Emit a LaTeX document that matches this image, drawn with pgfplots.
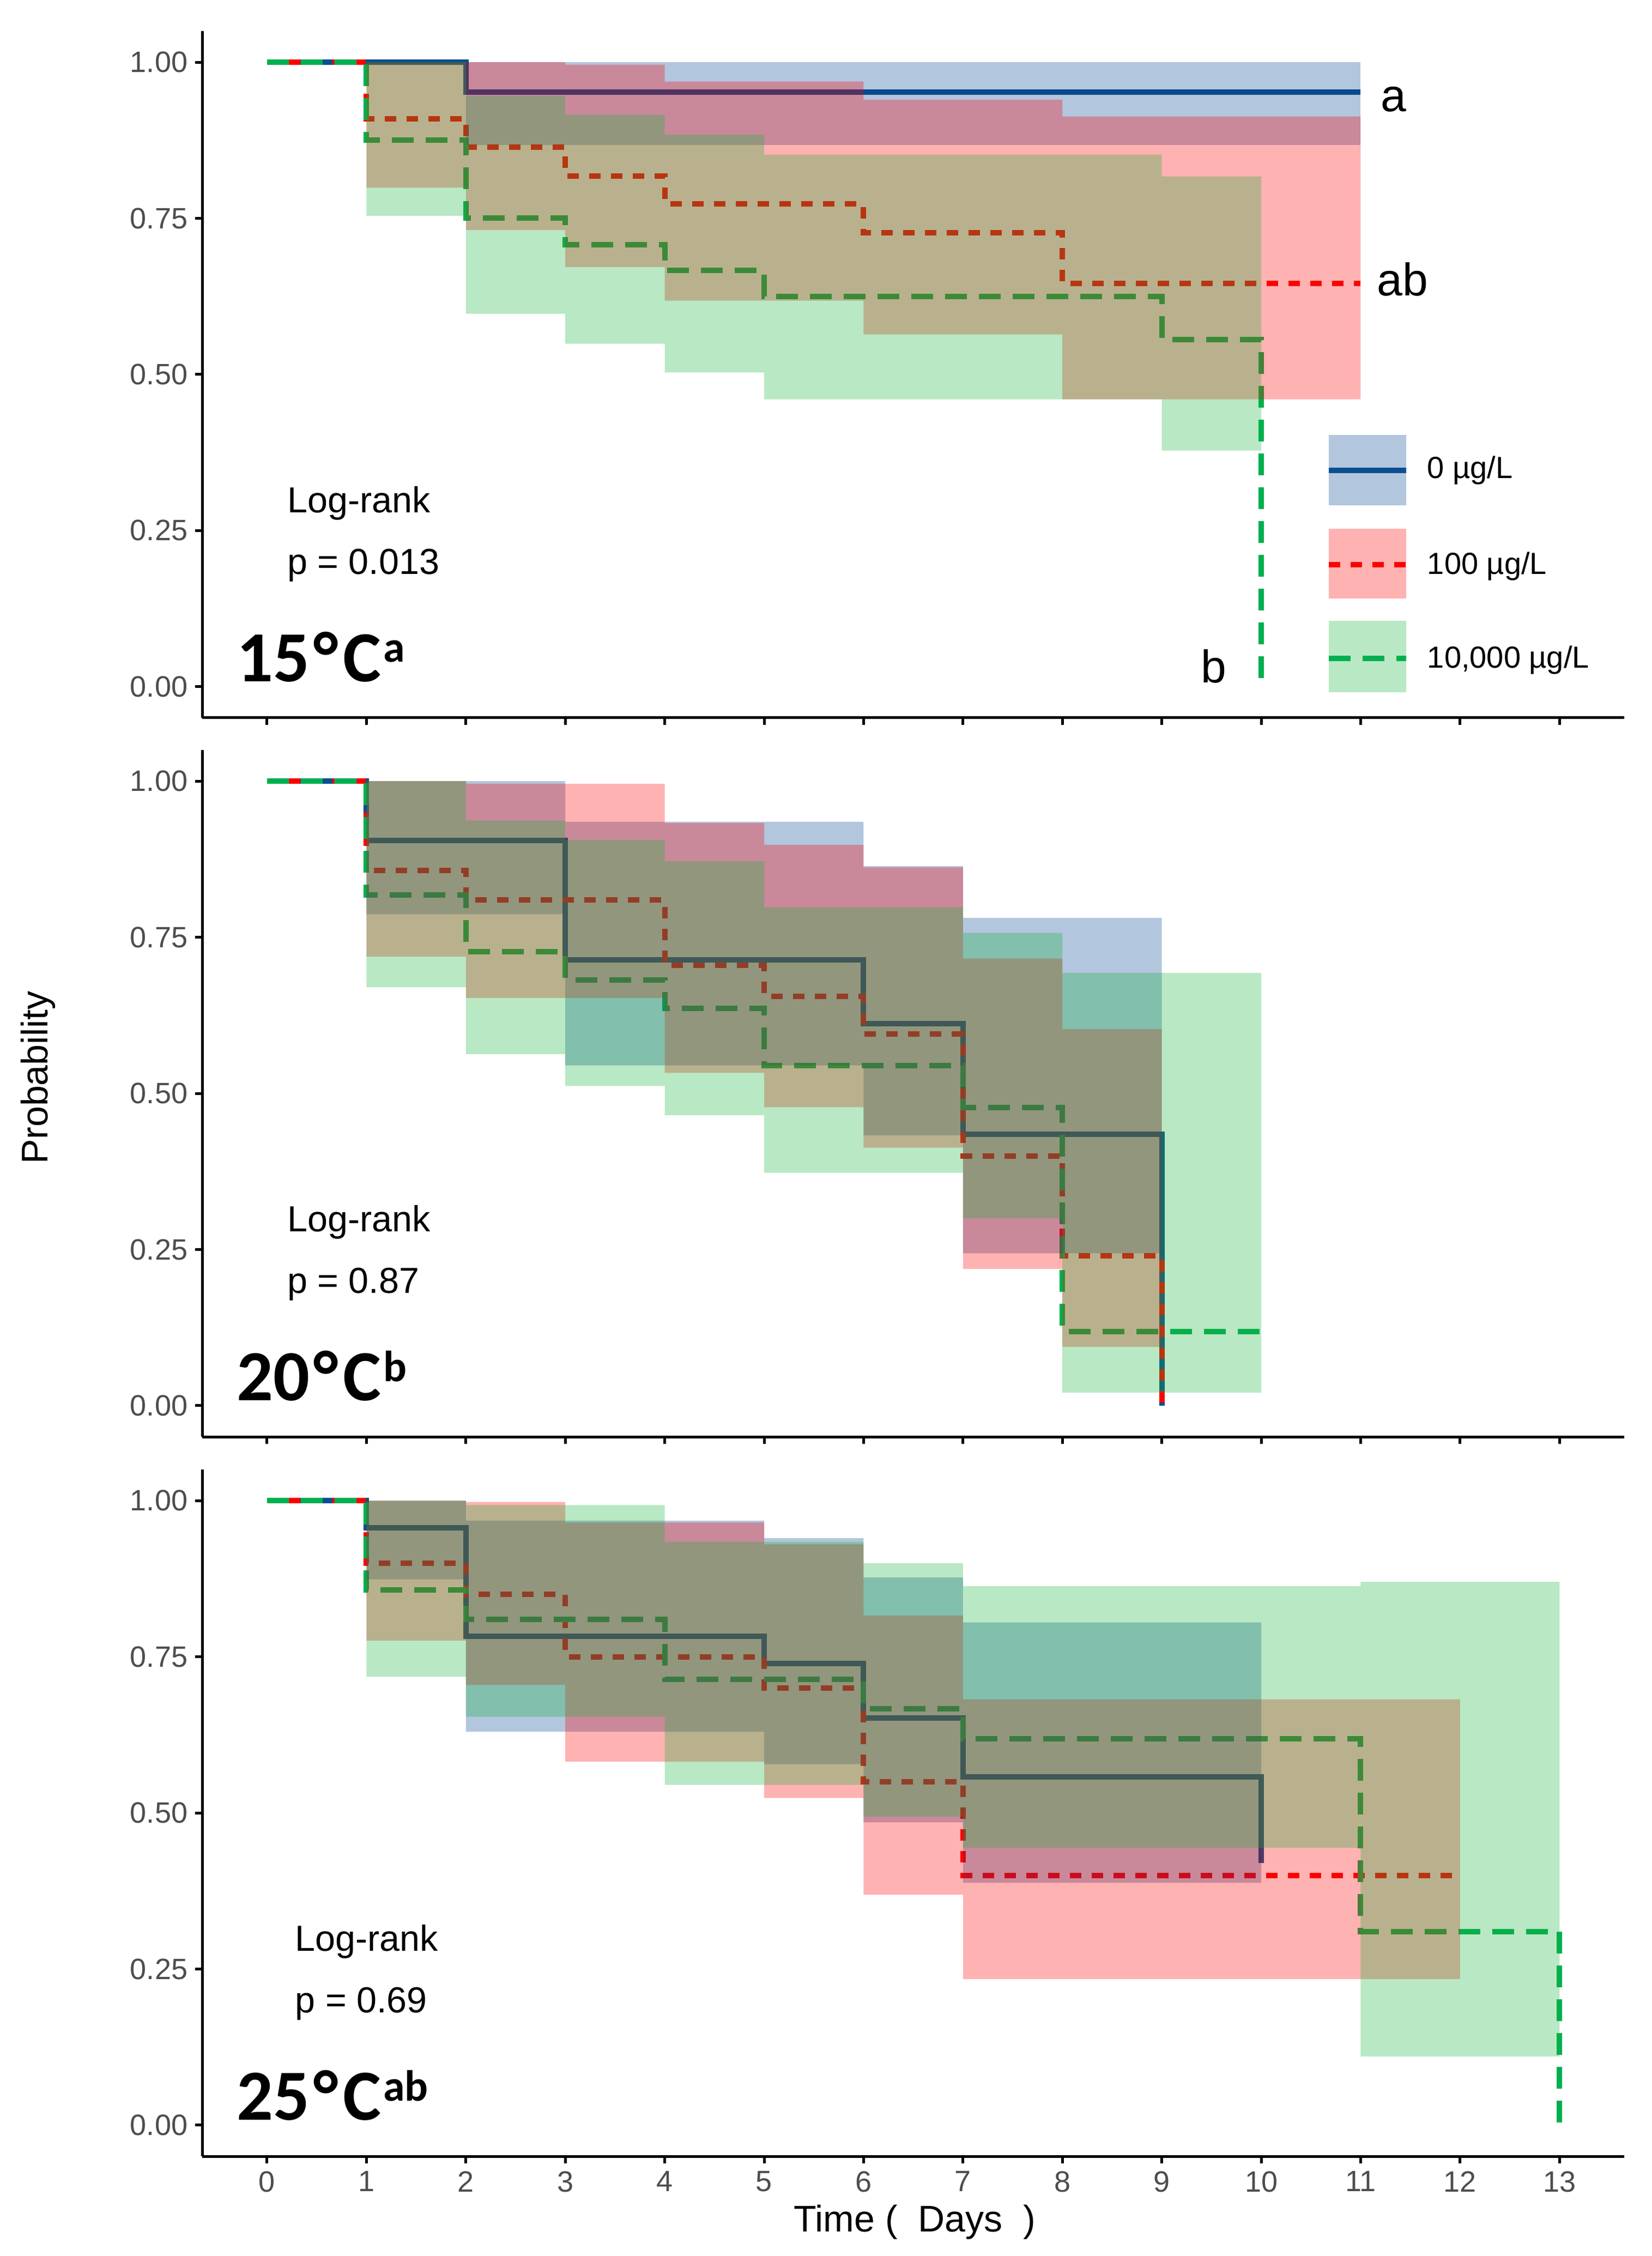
\documentclass[border=0pt]{standalone}
\usepackage{fontspec}
\setmainfont{Liberation Sans}
\newfontfamily\lblfont{Carlito}
\usepackage{pgfplots}
\pgfplotsset{compat=1.18}
\definecolor{cblue}{HTML}{0B4F8F}
\definecolor{cred}{HTML}{FF0000}
\definecolor{cgreen}{HTML}{00B050}
\definecolor{bfill}{HTML}{00418E}
\definecolor{rfill}{HTML}{FF0000}
\definecolor{gfill}{HTML}{16B23B}
\definecolor{ticktext}{HTML}{4D4D4D}
\pgfplotsset{
  kmaxis/.style={
    scale only axis, width=652.1pt, height=315.05pt,
    xmin=-0.65, xmax=13.65, ymin=-0.05, ymax=1.05,
    axis x line*=bottom, axis y line*=left,
    axis line style={line width=1.25pt, black},
    xtick={0,1,...,13}, ytick={0,0.25,0.5,0.75,1},
    yticklabels={0.00,0.25,0.50,0.75,1.00},
    tick align=outside, major tick length=3.3pt,
    tick style={line width=1.25pt, black},
    every tick label/.append style={font=\fontsize{13.5}{16}\selectfont, text=ticktext},
    /pgf/number format/assume math mode=true,
    clip=false,
    anchor=south west,
  },
  bl/.style={cblue, line width=2.5pt, const plot, mark=none},
  rd/.style={cred, line width=2.5pt, const plot, mark=none, dash pattern=on 5.25pt off 4.75pt},
  gr/.style={cgreen, line width=2.5pt, const plot, mark=none, dash pattern=on 10pt off 5.5pt},
  bband/.style={fill=bfill, fill opacity=0.3, draw=none, mark=none},
  rband/.style={fill=rfill, fill opacity=0.3, draw=none, mark=none},
  gband/.style={fill=gfill, fill opacity=0.3, draw=none, mark=none},
}
\newcommand{\lr}[2]{%
  \node[anchor=base west, inner sep=0pt, font=\fontsize{16.6}{18}\selectfont] at (axis cs:#1,0.279) {Log-rank};
  \node[anchor=base west, inner sep=0pt, font=\fontsize{16.6}{18}\selectfont] at (axis cs:#1,0.180) {p = #2};
}
\newcommand{\plab}[2]{%
  \node[anchor=base west, inner sep=0pt, font=\lblfont\bfseries\fontsize{33}{34}\selectfont] at (axis cs:-0.31,0.008) {#1\kern2pt°\kern2pt C\hspace{1pt}\raisebox{8.9pt}{\fontsize{20}{20}\selectfont #2}};
}
\begin{document}
\begin{tikzpicture}
\path[use as bounding box] (0,0) rectangle (757.5pt,1034.75pt);

% ---------------- 15 C ----------------
\begin{axis}[kmaxis, at={(92.85pt,705.5pt)}, xticklabels={}]
\addplot[bl] coordinates {(0,1)(2,0.952)(11,0.952)};
\addplot[rd] coordinates {(0,1)(1,0.909)(2,0.864)(3,0.818)(4,0.773)(6,0.727)(8,0.646)(11,0.646)};
\addplot[gr] coordinates {(0,1)(1,0.875)(2,0.75)(3,0.708)(4,0.667)(5,0.625)(9,0.556)(10,0)};
\addplot[bband] coordinates {(2,1)(11,1)(11,0.867)(2,0.867)};
\addplot[rband] coordinates {(1,1)(3,1)(3,0.996)(4,0.996)(4,0.969)(6,0.969)(6,0.94)(8,0.94)(8,0.913)(11,0.913)(11,0.46)(8,0.46)(8,0.564)(6,0.564)(6,0.618)(4,0.618)(4,0.672)(3,0.672)(3,0.731)(2,0.731)(2,0.799)(1,0.799)};
\addplot[gband] coordinates {(1,1)(2,1)(2,0.946)(3,0.946)(3,0.916)(4,0.916)(4,0.884)(5,0.884)(5,0.852)(9,0.852)(9,0.817)(10,0.817)(10,0.378)(9,0.378)(9,0.46)(5,0.46)(5,0.503)(4,0.503)(4,0.549)(3,0.549)(3,0.597)(2,0.597)(2,0.754)(1,0.754)};
\lr{0.2}{0.013}
\plab{15}{a}
\node[anchor=base west, inner sep=0pt, font=\fontsize{21}{22}\selectfont] at (axis cs:11.20,0.9206) {a};
\node[anchor=base west, inner sep=0pt, font=\fontsize{21}{22}\selectfont] at (axis cs:11.16,0.626) {ab};
\node[anchor=base west, inner sep=0pt, font=\fontsize{21}{22}\selectfont] at (axis cs:9.39,0.0066) {b};
% legend
\fill[bfill, fill opacity=0.3] (axis cs:10.68,0.2904) rectangle (axis cs:11.458,0.4029);
\draw[cblue, line width=2.5pt] (axis cs:10.68,0.3466) -- (axis cs:11.458,0.3466);
\fill[rfill, fill opacity=0.3] (axis cs:10.68,0.1411) rectangle (axis cs:11.458,0.2528);
\draw[cred, line width=2.5pt, dash pattern=on 5.25pt off 4.75pt] (axis cs:10.68,0.1952) -- (axis cs:11.458,0.1952);
\fill[gfill, fill opacity=0.3] (axis cs:10.68,-0.0091) rectangle (axis cs:11.458,0.1053);
\draw[cgreen, line width=2.5pt, dash pattern=on 10pt off 5.5pt] (axis cs:10.68,0.0450) -- (axis cs:11.458,0.0450);
\node[anchor=base west, inner sep=0pt, font=\fontsize{14}{16}\selectfont] at (axis cs:11.667,0.334) {0 µg/L};
\node[anchor=base west, inner sep=0pt, font=\fontsize{14}{16}\selectfont] at (axis cs:11.667,0.1803) {100 µg/L};
\node[anchor=base west, inner sep=0pt, font=\fontsize{14}{16}\selectfont] at (axis cs:11.667,0.0298) {10,000 µg/L};
\end{axis}

% ---------------- 20 C ----------------
\begin{axis}[kmaxis, at={(92.85pt,375.7pt)}, xticklabels={}]
\addplot[bl] coordinates {(0,1)(1,0.905)(3,0.714)(6,0.612)(7,0.435)(9,0)};
\addplot[rd] coordinates {(0,1)(1,0.857)(2,0.81)(4,0.705)(5,0.655)(6,0.595)(7,0.40)(8,0.24)(9,0)};
\addplot[gr] coordinates {(0,1)(1,0.818)(2,0.727)(3,0.682)(4,0.636)(5,0.545)(7,0.477)(8,0.119)(10,0.119)};
\addplot[bband] coordinates {(1,1)(3,1)(3,0.935)(6,0.935)(6,0.864)(7,0.864)(7,0.781)(9,0.781)(9,0.244)(7,0.244)(7,0.433)(6,0.433)(6,0.545)(3,0.545)(3,0.787)(1,0.787)};
\addplot[rband] coordinates {(1,1)(2,1)(2,0.996)(4,0.996)(4,0.933)(5,0.933)(5,0.898)(6,0.898)(6,0.862)(7,0.862)(7,0.716)(8,0.716)(8,0.603)(9,0.603)(9,0.094)(8,0.094)(8,0.219)(7,0.219)(7,0.413)(6,0.413)(6,0.478)(5,0.478)(5,0.533)(4,0.533)(4,0.653)(2,0.653)(2,0.719)(1,0.719)};
\addplot[gband] coordinates {(1,1)(2,1)(2,0.937)(3,0.937)(3,0.906)(4,0.906)(4,0.872)(5,0.872)(5,0.798)(7,0.798)(7,0.757)(8,0.757)(8,0.693)(10,0.693)(10,0.021)(8,0.021)(8,0.30)(7,0.30)(7,0.373)(5,0.373)(5,0.465)(4,0.465)(4,0.512)(3,0.512)(3,0.563)(2,0.563)(2,0.670)(1,0.670)};
\lr{0.2}{0.87}
\plab{20}{b}
\end{axis}

% ---------------- 25 C ----------------
\begin{axis}[kmaxis, at={(92.85pt,45.7pt)}]
\addplot[bl] coordinates {(0,1)(1,0.957)(2,0.783)(5,0.739)(6,0.652)(7,0.558)(10,0.42)};
\addplot[rd] coordinates {(0,1)(1,0.90)(2,0.85)(3,0.75)(5,0.70)(6,0.55)(7,0.40)(12,0.40)};
\addplot[gr] coordinates {(0,1)(1,0.857)(2,0.81)(4,0.714)(6,0.667)(7,0.619)(11,0.31)(13,0)};
\addplot[bband] coordinates {(1,1)(2,1)(2,0.968)(5,0.968)(5,0.94)(6,0.94)(6,0.877)(7,0.877)(7,0.805)(10,0.805)(10,0.388)(7,0.388)(7,0.485)(6,0.485)(6,0.578)(5,0.578)(5,0.63)(2,0.63)(2,0.874)(1,0.874)};
\addplot[rband] coordinates {(1,1)(2,1)(2,0.998)(3,0.998)(3,0.965)(5,0.965)(5,0.93)(6,0.93)(6,0.816)(7,0.816)(7,0.682)(12,0.682)(12,0.234)(7,0.234)(7,0.369)(6,0.369)(6,0.524)(5,0.524)(5,0.582)(3,0.582)(3,0.705)(2,0.705)(2,0.776)(1,0.776)};
\addplot[gband] coordinates {(1,1)(2,1)(2,0.993)(4,0.993)(4,0.934)(6,0.934)(6,0.90)(7,0.90)(7,0.863)(11,0.863)(11,0.870)(13,0.870)(13,0.11)(11,0.11)(11,0.444)(7,0.444)(7,0.494)(6,0.494)(6,0.545)(4,0.545)(4,0.654)(2,0.654)(2,0.718)(1,0.718)};
\lr{0.28}{0.69}
\plab{25}{ab}
\end{axis}

\node[anchor=base, inner sep=0pt, font=\fontsize{17}{19}\selectfont] at (419.6pt,11.1pt) {Time (\ \ Days \ )};
\node[anchor=base, inner sep=0pt, rotate=90, font=\fontsize{17}{19}\selectfont] at (21.75pt,540.5pt) {Probability};
\end{tikzpicture}
\end{document}
